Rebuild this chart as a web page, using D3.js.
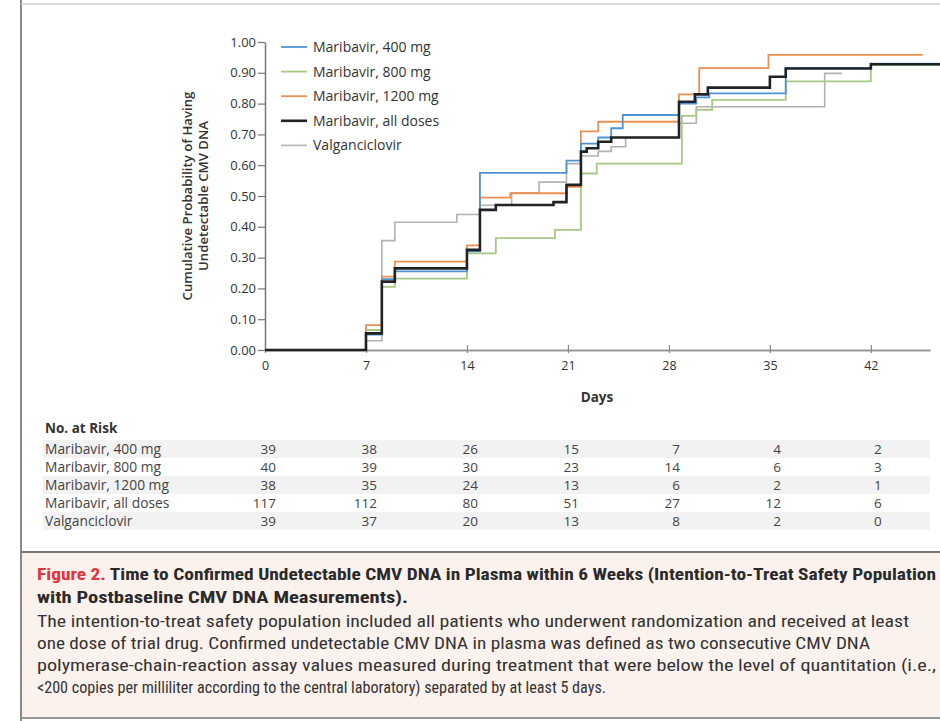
<!DOCTYPE html>
<html><head><meta charset="utf-8">
<script src="https://cdn.jsdelivr.net/npm/d3@7"></script>
<style>body{margin:0;background:#fff}svg{display:block}</style>
</head><body>
<script>
// ---- DATA ----
const seriesNames = ["Maribavir, 400 mg","Maribavir, 800 mg","Maribavir, 1200 mg","Maribavir, all doses","Valganciclovir"];
// step points: [day, cumulative probability]
const mar400 = [[0,0],[7,0.05],[8.1,0.23],[9,0.255],[14,0.32],[14.9,0.575],[20.9,0.615],[21.9,0.67],[23.1,0.69],[24.0,0.72],[24.8,0.763],[28.7,0.80],[29.9,0.82],[30.8,0.833],[36.1,0.915],[42,0.93],[47,0.93]];
const mar800 = [[0,0],[7,0.065],[8.1,0.205],[9,0.232],[14,0.314],[16,0.363],[20.1,0.39],[21.9,0.573],[23,0.605],[28.9,0.76],[29.9,0.78],[31,0.812],[36.1,0.872],[42,0.925],[47,0.925]];
const mar1200 = [[0,0],[7,0.081],[8.1,0.238],[9,0.287],[14,0.34],[14.9,0.495],[17,0.509],[20.9,0.53],[21.9,0.71],[23.1,0.741],[28.7,0.83],[30.1,0.915],[34.9,0.958],[45.6,0.958]];
const marAll = [[0,0],[7,0.054],[8.1,0.222],[9,0.265],[14,0.325],[14.9,0.455],[16,0.471],[20,0.48],[20.9,0.536],[21.9,0.644],[22.3,0.655],[23.1,0.676],[24,0.69],[28.7,0.806],[29.8,0.83],[30.7,0.852],[35,0.887],[36.1,0.914],[42,0.928],[47,0.928]];
const valg = [[0,0],[7,0.03],[8.1,0.355],[9,0.415],[13.3,0.44],[14.9,0.47],[17.1,0.51],[19,0.545],[20.9,0.605],[21.9,0.63],[23.1,0.645],[24,0.66],[25,0.69],[28.7,0.736],[29.9,0.79],[38.8,0.898],[40,0.898]];

const xTicks = [0,7,14,21,28,35,42];
const yTicks = [0,0.1,0.2,0.3,0.4,0.5,0.6,0.7,0.8,0.9,1.0];

const riskRows = ["Maribavir, 400 mg","Maribavir, 800 mg","Maribavir, 1200 mg","Maribavir, all doses","Valganciclovir"];
const risk400 = [39,38,26,15,7,4,2];
const risk800 = [40,39,30,23,14,6,3];
const risk1200 = [38,35,24,13,6,2,1];
const riskAll = [117,112,80,51,27,12,6];
const riskValg = [39,37,20,13,8,2,0];

const captionTitle1a = "Figure 2.";
const captionTitle1b = " Time to Confirmed Undetectable CMV DNA in Plasma within 6 Weeks (Intention-to-Treat Safety Population";
const captionTitle2 = "with Postbaseline CMV DNA Measurements).";
const captionBody = [
 "The intention-to-treat safety population included all patients who underwent randomization and received at least",
 "one dose of trial drug. Confirmed undetectable CMV DNA in plasma was defined as two consecutive CMV DNA",
 "polymerase-chain-reaction assay values measured during treatment that were below the level of quantitation (i.e.,",
 "<200 copies per milliliter according to the central laboratory) separated by at least 5 days."
];

// ---- STYLE ----
const seriesData = [mar400, mar800, mar1200, marAll, valg];
const colors = ["#4f93d2","#a6c986","#ee8f52","#1f2326","#b2b2b2"];
const widths = [1.8,1.8,1.8,2.6,1.6];
const drawOrder = [4,1,2,0,3];
const riskData = [risk400, risk800, risk1200, riskAll, riskValg];

const W = 940, H = 721;
const svg = d3.select("body").append("svg").attr("width",W).attr("height",H)
  .style("font-family","'Open Sans', sans-serif");

// frame
svg.append("line").attr("x1",21).attr("x2",21).attr("y1",0).attr("y2",H).attr("stroke","#8a8a8a").attr("stroke-width",2);
svg.append("line").attr("x1",21).attr("x2",W).attr("y1",4).attr("y2",4).attr("stroke","#cfcfcf").attr("stroke-width",1.5);

const x = d3.scaleLinear().domain([0,46.1]).range([265,930]);
const y = d3.scaleLinear().domain([0,1]).range([350,42]);

svg.append("defs").append("clipPath").attr("id","clip").append("rect")
  .attr("x",260).attr("y",30).attr("width",W-260).attr("height",330);

// Y axis
const yAx = svg.append("g").attr("transform","translate(265,0)")
  .call(d3.axisLeft(y).tickValues(yTicks).tickFormat(d3.format(".2f")).tickSize(7).tickSizeOuter(0).tickPadding(2));
yAx.select(".domain").attr("stroke","#777").attr("stroke-width",1.5);
yAx.selectAll(".tick line").attr("stroke","#777").attr("stroke-width",1.2);
yAx.selectAll(".tick text").attr("font-size",13).attr("fill","#333").attr("font-family","'Open Sans', sans-serif");

// X axis
const xAx = svg.append("g").attr("transform","translate(0,350)")
  .call(d3.axisBottom(x).tickValues(xTicks).tickSize(5).tickSizeOuter(0).tickPadding(6));
xAx.select(".domain").attr("stroke","#999").attr("stroke-width",2.2);
xAx.selectAll(".tick line").attr("stroke","#888").attr("stroke-width",1.2).attr("y1",-5).attr("y2",3);
xAx.selectAll(".tick text").attr("font-size",12.5).attr("fill","#333").attr("font-family","'Open Sans', sans-serif");

// axis titles
const yt = svg.append("text").attr("transform","translate(195,196) rotate(-90)")
  .attr("text-anchor","middle").attr("font-size",13.2).attr("font-weight",600).attr("fill","#333");
yt.append("tspan").attr("x",0).attr("dy",-3).text("Cumulative Probability of Having");
yt.append("tspan").attr("x",0).attr("dy",15.5).text("Undetectable CMV DNA");
svg.append("text").attr("x",597).attr("y",402).attr("text-anchor","middle")
  .attr("font-size",13.5).attr("font-weight",700).attr("fill","#333").text("Days");

// curves
const line = d3.line().x(d=>x(d[0])).y(d=>y(d[1])).curve(d3.curveStepAfter);
const cg = svg.append("g").attr("clip-path","url(#clip)");
drawOrder.forEach(i=>{
  cg.append("path").datum(seriesData[i]).attr("d",line)
    .attr("fill","none").attr("stroke",colors[i]).attr("stroke-width",widths[i]);
});

// legend
const lg = svg.append("g");
seriesNames.forEach((n,i)=>{
  const ly = 47 + i*24.6;
  lg.append("line").attr("x1",281).attr("x2",307).attr("y1",ly).attr("y2",ly)
    .attr("stroke",colors[i]).attr("stroke-width",widths[i]);
  lg.append("text").attr("x",313).attr("y",ly+5).attr("font-size",14).attr("fill","#333").text(n);
});

// risk table
svg.append("text").attr("x",45).attr("y",433).attr("font-size",13.5).attr("font-weight",700).attr("fill","#333").text("No. at Risk");
riskRows.forEach((r,i)=>{
  const cy = 449 + i*18;
  if(i%2===0) svg.append("rect").attr("x",43).attr("y",cy-9).attr("width",887).attr("height",18).attr("fill","#f2f2f2");
  svg.append("text").attr("x",45).attr("y",cy+5).attr("font-size",13.8).attr("fill","#444").text(r);
  riskData[i].forEach((v,j)=>{
    svg.append("text").attr("x",x(xTicks[j])+11).attr("y",cy+5).attr("text-anchor","end")
      .attr("font-size",13.5).attr("fill","#444").text(v);
  });
});

// caption
svg.append("rect").attr("x",22).attr("y",553).attr("width",W-22).attr("height",165).attr("fill","#fbf1ed");
svg.append("line").attr("x1",21).attr("x2",W).attr("y1",552).attr("y2",552).attr("stroke","#777").attr("stroke-width",2);
svg.append("line").attr("x1",21).attr("x2",W).attr("y1",718).attr("y2",718).attr("stroke","#999").attr("stroke-width",2);
const cf = "'Liberation Sans Narrow', 'Roboto Condensed', Roboto, sans-serif";
const t1 = svg.append("text").attr("x",37).attr("y",580).attr("font-family",cf).attr("font-size",16.5).attr("font-weight",700)
  .attr("textLength",899).attr("lengthAdjust","spacingAndGlyphs");
t1.append("tspan").attr("fill","#e2343c").text(captionTitle1a);
t1.append("tspan").attr("fill","#2a2a2a").text(captionTitle1b);
svg.append("text").attr("x",37).attr("y",603).attr("font-family",cf).attr("font-size",16.5).attr("font-weight",700)
  .attr("fill","#2a2a2a").attr("textLength",371).attr("lengthAdjust","spacingAndGlyphs").text(captionTitle2);
const bodyLens = [872,833,899,569];
captionBody.forEach((s,i)=>{
  svg.append("text").attr("x",37).attr("y",627+i*22).attr("font-family",cf).attr("font-size",16.5)
    .attr("fill","#333").attr("textLength",bodyLens[i]).attr("lengthAdjust","spacingAndGlyphs").text(s);
});
</script>
</body></html>
